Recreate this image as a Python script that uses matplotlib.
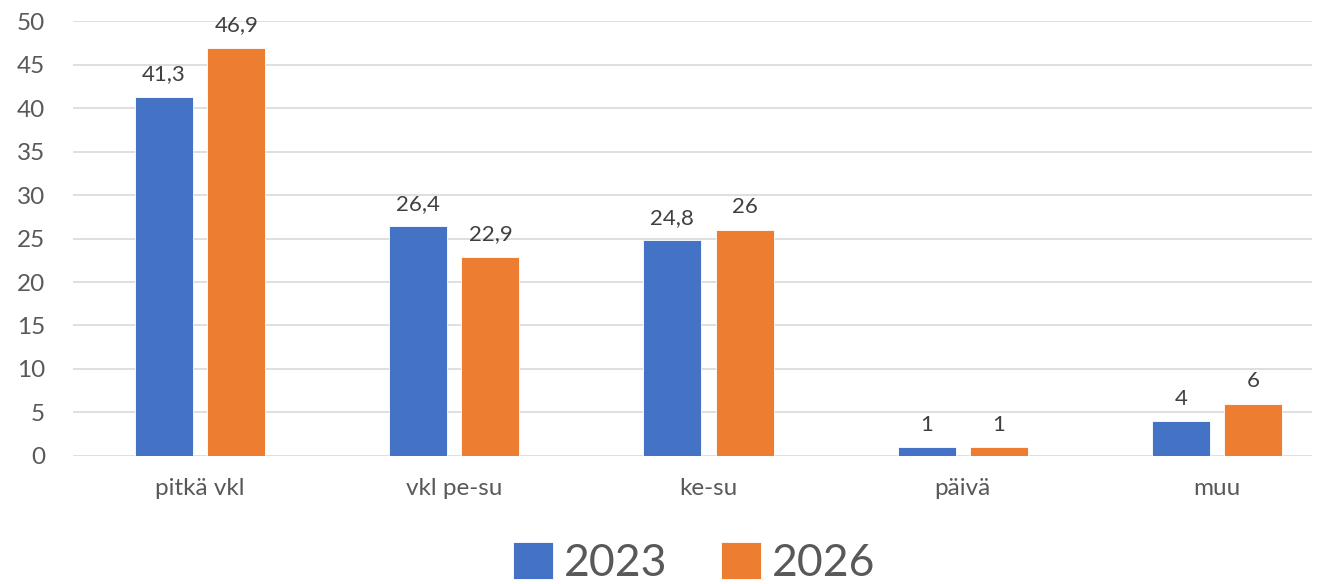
import matplotlib.pyplot as plt
import numpy as np

plt.rcParams['font.family'] = ['Lato', 'DejaVu Sans']

# Data
categories = ['pitkä vkl', 'vkl pe-su', 'ke-su', 'päivä', 'muu']
values_2023 = [41.3, 26.4, 24.8, 1, 4]
values_2026 = [46.9, 22.9, 26, 1, 6]
series_labels = ['2023', '2026']
colors = ['#4472c4', '#ed7d31']

fig = plt.figure(figsize=(13.25, 5.84), dpi=100)
ax = fig.add_axes([0.0551, 0.2192, 0.9351, 0.7448])

x = np.arange(len(categories))
width = 0.228
offset = 0.142

def fmt(v):
    s = f'{v:g}'
    return s.replace('.', ',')

for vals, off, col, lab in [(values_2023, -offset, colors[0], series_labels[0]),
                            (values_2026, offset, colors[1], series_labels[1])]:
    bars = ax.bar(x + off, vals, width, color=col, label=lab, zorder=3,
                  edgecolor='white', linewidth=0.6)
    ax.bar_label(bars, labels=[fmt(v) for v in vals], padding=9,
                 fontsize=16, color='#404040')

ax.set_xlim(-0.5, len(categories) - 0.626)
ax.set_ylim(0, 50)
ax.set_yticks(range(0, 51, 5))
ax.set_xticks(x)
ax.set_xticklabels(categories)
ax.tick_params(axis='both', length=0, labelsize=17.5, colors='#595959')
ax.tick_params(axis='x', pad=16)
ax.tick_params(axis='y', pad=20)
ax.yaxis.grid(True, color='#d9d9d9', linewidth=1.2, zorder=0)
for s in ax.spines.values():
    s.set_visible(False)

leg = fig.legend(loc='center', bbox_to_anchor=(0.524, 0.036), ncol=2,
                 frameon=False, fontsize=32, handlelength=0.9, handleheight=0.9,
                 handletextpad=0.25, columnspacing=1.2, labelcolor='#595959')

fig.savefig('out.png', dpi=100, facecolor='white')
